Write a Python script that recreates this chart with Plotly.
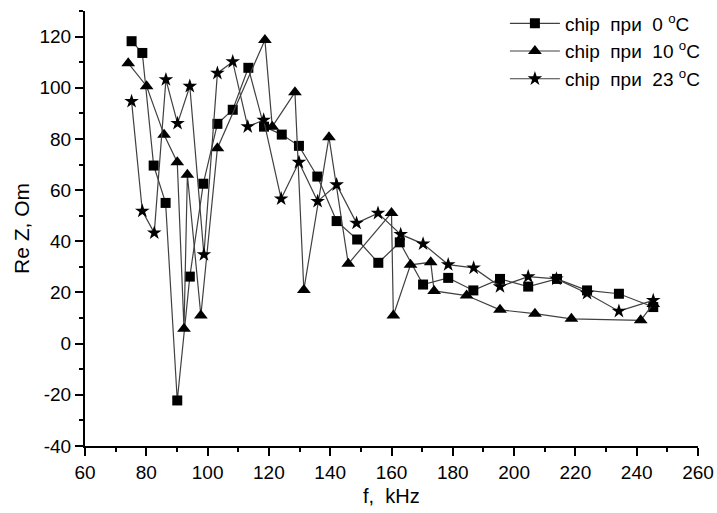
import plotly.graph_objects as go

f0 = [75.2, 78.7, 82.4, 86.3, 90.1, 94.2, 98.6, 103.2, 108.2, 113.3, 118.4, 124.2, 129.8,
      135.8, 142.1, 148.8, 155.7, 162.7, 170.3, 178.5, 186.7, 195.4, 204.6, 214.0, 223.8, 234.2, 245.4]
z0 = [118.2, 113.6, 69.6, 55.0, -22.2, 26.2, 62.5, 85.9, 91.4, 107.8, 84.8, 81.7, 77.3,
      65.3, 47.9, 40.7, 31.6, 39.6, 23.1, 25.7, 20.8, 25.3, 22.3, 25.3, 20.8, 19.5, 14.3]

f10 = [74.1, 80.1, 85.8, 90.1, 92.3, 93.4, 97.8, 103.2, 118.7, 121.1, 128.5, 131.4, 139.6,
       145.9, 160.0, 160.6, 166.2, 172.8, 173.9, 184.5, 195.4, 206.8, 218.7, 241.3, 245.4]
z10 = [109.6, 100.6, 81.6, 70.9, 5.8, 66.0, 11.0, 76.4, 118.7, 84.8, 98.2, 21.0, 80.7,
       31.2, 51.1, 11.0, 30.8, 31.8, 20.6, 18.8, 13.2, 11.7, 9.7, 9.1, 15.5]

f23 = [75.2, 78.7, 82.6, 86.4, 90.2, 94.2, 98.8, 103.2, 108.2, 113.1, 118.3, 124.0, 129.8,
       135.9, 142.1, 148.6, 155.6, 163.0, 170.3, 178.5, 186.8, 195.4, 204.6, 213.8, 223.8, 234.2, 245.4]
z23 = [94.7, 51.8, 43.3, 103.2, 86.1, 100.6, 34.8, 105.7, 110.2, 84.8, 87.4, 56.6, 70.9,
       55.6, 62.1, 47.1, 51.0, 42.7, 39.0, 30.9, 29.6, 22.3, 26.2, 25.3, 19.7, 12.7, 16.9]

y_ticks = [-40, -20, 0, 20, 40, 60, 80, 100, 120]
y_ticktext = ["-40", "-20", "0", "20", "40", "60", "80", "100", "120"]

sp = "\u00a0"
names = [f"chip{sp}{sp}при{sp}{sp}0{sp}<sup>o</sup>C",
         f"chip{sp}{sp}при{sp}{sp}10{sp}<sup>o</sup>C",
         f"chip{sp}{sp}при{sp}{sp}23{sp}<sup>o</sup>C"]

line_col = "#404040"
fig = go.Figure()
fig.add_trace(go.Scatter(x=f0, y=z0, mode="lines+markers", name=names[0],
                         line=dict(color=line_col, width=1.2),
                         marker=dict(symbol="square", size=10, color="black")))
fig.add_trace(go.Scatter(x=f10, y=z10, mode="lines+markers", name=names[1],
                         line=dict(color=line_col, width=1.2),
                         marker=dict(symbol="triangle-up", size=12, color="black")))
fig.add_trace(go.Scatter(x=f23, y=z23, mode="lines+markers", name=names[2],
                         line=dict(color=line_col, width=1.2),
                         marker=dict(symbol="star", size=11, color="black")))

font = "Liberation Sans, Arial, sans-serif"
fig.update_layout(
    width=717, height=513,
    margin=dict(l=85, r=19, t=11, b=67, autoexpand=False),
    paper_bgcolor="white", plot_bgcolor="white",
    font=dict(family=font, size=19, color="black"),
    showlegend=True,
    legend=dict(x=0.685, y=1.015, xanchor="left", yanchor="top", itemwidth=50,
                bgcolor="rgba(0,0,0,0)", font=dict(size=19)),
    xaxis=dict(range=[60, 260], dtick=20, tick0=60, showline=True, linecolor="black",
               linewidth=2, ticks="outside", ticklen=8, tickwidth=2, tickcolor="black",
               showgrid=False, zeroline=False, automargin=False,
               minor=dict(dtick=10, ticks="outside", ticklen=4, tickwidth=2, tickcolor="black"),
               tickfont=dict(size=19)),
    yaxis=dict(range=[-40, 130], tickvals=y_ticks, ticktext=y_ticktext,
               showline=True, linecolor="black",
               linewidth=2, ticks="outside", ticklen=8, tickwidth=2, tickcolor="black",
               showgrid=False, zeroline=False, automargin=False,
               minor=dict(dtick=10, ticks="outside", ticklen=4, tickwidth=2, tickcolor="black"),
               title=dict(text="Re Z, Om", font=dict(size=21), standoff=4),
               tickfont=dict(size=19)),
    annotations=[dict(text="f,  kHz", xref="paper", yref="paper", x=0.5, y=-0.114,
                      xanchor="center", yanchor="middle", showarrow=False,
                      font=dict(size=20))],
)

fig.write_html("out.html")
